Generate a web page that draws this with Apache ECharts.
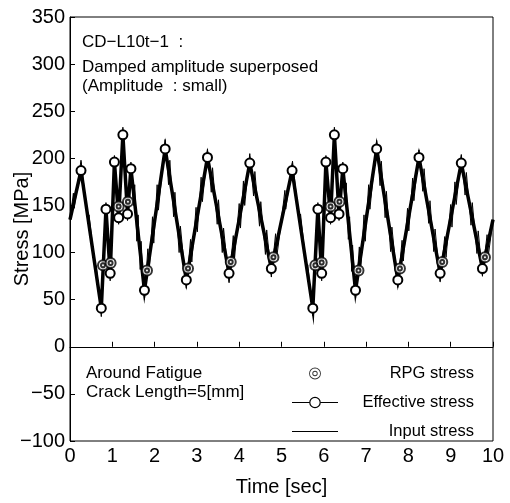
<!DOCTYPE html>
<html><head><meta charset="utf-8">
<script src="https://cdn.jsdelivr.net/npm/echarts@6/dist/echarts.min.js"></script>
<style>html,body{margin:0;padding:0;background:#fff}#c{width:510px;height:503px}</style>
</head><body><div id="c"></div>
<script>
const xTicks = [0,1,2,3,4,5,6,7,8,9,10];
const yTicks = [-100,-50,0,50,100,150,200,250,300,350];

const effectiveStress = [
  [0,135],[0.26,187],[0.74,41],[0.85,146],[0.95,78],[1.05,196],[1.15,137],[1.25,225],[1.36,141],[1.44,189],
  [1.76,60],[2.25,210],[2.75,71],[3.25,201],[3.76,78],[4.25,195],[4.76,83],
  [5.25,187],[5.74,41],[5.86,146],[5.95,78],[6.05,196],[6.16,137],[6.25,225],[6.36,141],[6.45,189],
  [6.75,60],[7.25,210],[7.75,71],[8.25,201],[8.75,78],[9.25,195],[9.75,83],[10,135]
];

const rpgStress = [
  [0.78,86.5],[0.96,89],[1.15,149],[1.37,154],[1.82,81],[2.79,83],[3.80,90],[4.81,95],
  [5.80,86.5],[5.95,89.5],[6.16,149],[6.37,154],[6.82,81],[7.80,83],[8.80,90],[9.81,95]
];

const inputStress = [
  [0,135],[0.08,163],[0.1,147],[0.26,198],[0.42,134],[0.45,140],[0.6,80],[0.62,86],[0.74,32],
  [0.85,153],[0.95,70],[1.05,203],[1.15,130],[1.25,233],[1.36,134],[1.44,196],
  [1.5,150],[1.53,172],[1.58,112],[1.61,140],[1.66,82],[1.68,112],[1.76,50],
  [1.84,104],[1.87,78],[1.95,138],[1.98,110],[2.06,172],[2.09,145],[2.25,220],
  [2.33,172],[2.36,198],[2.45,138],[2.48,164],[2.58,100],[2.61,128],[2.75,62],
  [2.85,114],[2.88,90],[2.98,148],[3.01,122],[3.1,180],[3.13,154],[3.25,210],
  [3.34,164],[3.37,190],[3.48,130],[3.51,156],[3.6,100],[3.63,126],[3.76,68],
  [3.86,118],[3.89,94],[4.0,152],[4.03,126],[4.1,176],[4.13,150],[4.25,205],
  [4.34,160],[4.37,186],[4.48,128],[4.51,154],[4.62,98],[4.65,124],[4.76,74],
  [4.86,120],[4.89,96],[5.0,135],[5.08,166],[5.1,146],[5.26,197],
  [5.42,133],[5.45,141],[5.6,79],[5.62,87],[5.74,33],[5.86,153],[5.95,70],
  [6.05,203],[6.16,130],[6.25,233],[6.36,134],[6.45,196],
  [6.5,152],[6.53,174],[6.58,114],[6.61,138],[6.66,80],[6.68,108],[6.75,51],
  [6.84,106],[6.87,80],[6.95,140],[6.98,112],[7.06,172],[7.09,146],[7.25,219],
  [7.33,171],[7.36,197],[7.45,137],[7.48,165],[7.58,101],[7.61,127],[7.75,63],
  [7.85,113],[7.88,91],[7.98,147],[8.01,123],[8.1,179],[8.13,155],[8.25,209],
  [8.34,165],[8.37,189],[8.48,131],[8.51,155],[8.6,101],[8.63,125],[8.75,69],
  [8.86,117],[8.89,95],[9.0,151],[9.03,127],[9.1,175],[9.13,151],[9.25,204],
  [9.34,161],[9.37,185],[9.48,129],[9.51,153],[9.62,99],[9.65,123],[9.75,75],
  [9.86,119],[9.89,97],[10,135]
];

const FONT = '"Liberation Sans", Arial, sans-serif';
const RPG_ICON = 'path://M0,0M26,26' +
  'M2,13A11,11 0 1,1 24,13A11,11 0 1,1 2,13Z' +
  'M3.6,13A9.4,9.4 0 1,0 22.4,13A9.4,9.4 0 1,0 3.6,13Z' +
  'M8,13A5,5 0 1,1 18,13A5,5 0 1,1 8,13Z' +
  'M9.6,13A3.4,3.4 0 1,0 16.4,13A3.4,3.4 0 1,0 9.6,13Z';
const EFF_ICON = 'path://M0,0M46,14' +
  'M0,6.5L17.2,6.5L17.2,7.5L0,7.5Z' +
  'M28.8,6.5L46,6.5L46,7.5L28.8,7.5Z' +
  'M17.2,7A5.8,5.8 0 1,1 28.8,7A5.8,5.8 0 1,1 17.2,7Z' +
  'M18.4,7A4.6,4.6 0 1,0 27.6,7A4.6,4.6 0 1,0 18.4,7Z';
const INPUT_ICON = 'path://M0,0M46,14M0,6.5L46,6.5L46,7.5L0,7.5Z';

const effData = effectiveStress.map((p, i) =>
  (i === 0 || i === effectiveStress.length - 1) ? { value: p, symbol: 'none' } : { value: p });

const chart = echarts.init(document.getElementById('c'), null, { renderer: 'canvas' });
chart.setOption({
  animation: false,
  backgroundColor: '#fff',
  grid: { left: 70, right: 17, top: 17, bottom: 62, containLabel: false, outerBoundsMode: 'none',
    show: true, borderColor: '#000', borderWidth: 1, backgroundColor: 'transparent' },
  xAxis: {
    type: 'value', min: xTicks[0], max: xTicks[xTicks.length - 1], interval: 1,
    name: 'Time [sec]', nameLocation: 'middle', nameGap: 36, nameMoveOverlap: false,
    nameTextStyle: { fontFamily: FONT, fontSize: 20, color: '#000' },
    axisLine: { lineStyle: { color: '#000', width: 1 } },
    axisTick: { inside: true, length: 5, lineStyle: { color: '#000' } },
    axisLabel: { fontFamily: FONT, fontSize: 20, color: '#000', margin: 5 },
    splitLine: { show: false }
  },
  yAxis: {
    type: 'value', min: yTicks[0], max: yTicks[yTicks.length - 1], interval: 50,
    name: 'Stress [MPa]', nameLocation: 'middle', nameGap: 38, nameMoveOverlap: false,
    nameTextStyle: { fontFamily: FONT, fontSize: 20, color: '#000' },
    axisLine: { lineStyle: { color: '#000', width: 1 } },
    axisTick: { inside: true, length: 5, lineStyle: { color: '#000' } },
    axisLabel: { fontFamily: FONT, fontSize: 20, color: '#000', margin: 5,
      formatter: v => String(v).replace('-', '\u2212') },
    splitLine: { show: false }
  },
  legend: {
    orient: 'vertical', left: 287, top: 360, itemWidth: 46, itemHeight: 14, itemGap: 12,
    selectedMode: false,
    itemStyle: { color: '#000', borderWidth: 0 },
    data: [
      { name: 'RPG stress', icon: RPG_ICON },
      { name: 'Effective stress', icon: EFF_ICON },
      { name: 'Input stress', icon: INPUT_ICON }
    ],
    formatter: '{a|{name}}',
    textStyle: { rich: { a: { width: 131, align: 'right', fontSize: 16.5, fontFamily: FONT, color: '#000' } } }
  },
  graphic: [
    { type: 'text', x: 82, y: 42, style: { text: 'CD\u2212L10t\u22121  :', font: '17px ' + FONT, fill: '#000', verticalAlign: 'middle' } },
    { type: 'text', x: 82, y: 67, style: { text: 'Damped amplitude superposed', font: '17px ' + FONT, fill: '#000', verticalAlign: 'middle' } },
    { type: 'text', x: 82, y: 86, style: { text: '(Amplitude  : small)', font: '17px ' + FONT, fill: '#000', verticalAlign: 'middle' } },
    { type: 'text', x: 86, y: 373, style: { text: 'Around Fatigue', font: '17px ' + FONT, fill: '#000', verticalAlign: 'middle' } },
    { type: 'text', x: 86, y: 392, style: { text: 'Crack Length=5[mm]', font: '17px ' + FONT, fill: '#000', verticalAlign: 'middle' } }
  ],
  series: [
    {
      name: 'Input stress', type: 'line', data: inputStress, symbol: 'none', z: 1,
      lineStyle: { color: '#000', width: 1 }, itemStyle: { color: '#000' }, silent: true
    },
    {
      name: 'Effective stress', type: 'line', data: effData, z: 2,
      symbol: 'emptyCircle', symbolSize: 9, showAllSymbol: true,
      lineStyle: { color: '#000', width: 3.5, join: 'miter' },
      itemStyle: { color: '#000', borderWidth: 1.2 }, silent: true
    },
    {
      name: 'RPG stress', type: 'scatter', data: rpgStress, z: 3,
      symbol: 'emptyCircle', symbolSize: 10,
      itemStyle: { color: '#000', borderWidth: 1.2 }, silent: true
    },
    {
      name: 'RPG stress', type: 'scatter', data: rpgStress, z: 4,
      symbol: 'emptyCircle', symbolSize: 4,
      itemStyle: { color: '#000', borderWidth: 1.1 }, silent: true
    }
  ]
});
</script></body></html>
